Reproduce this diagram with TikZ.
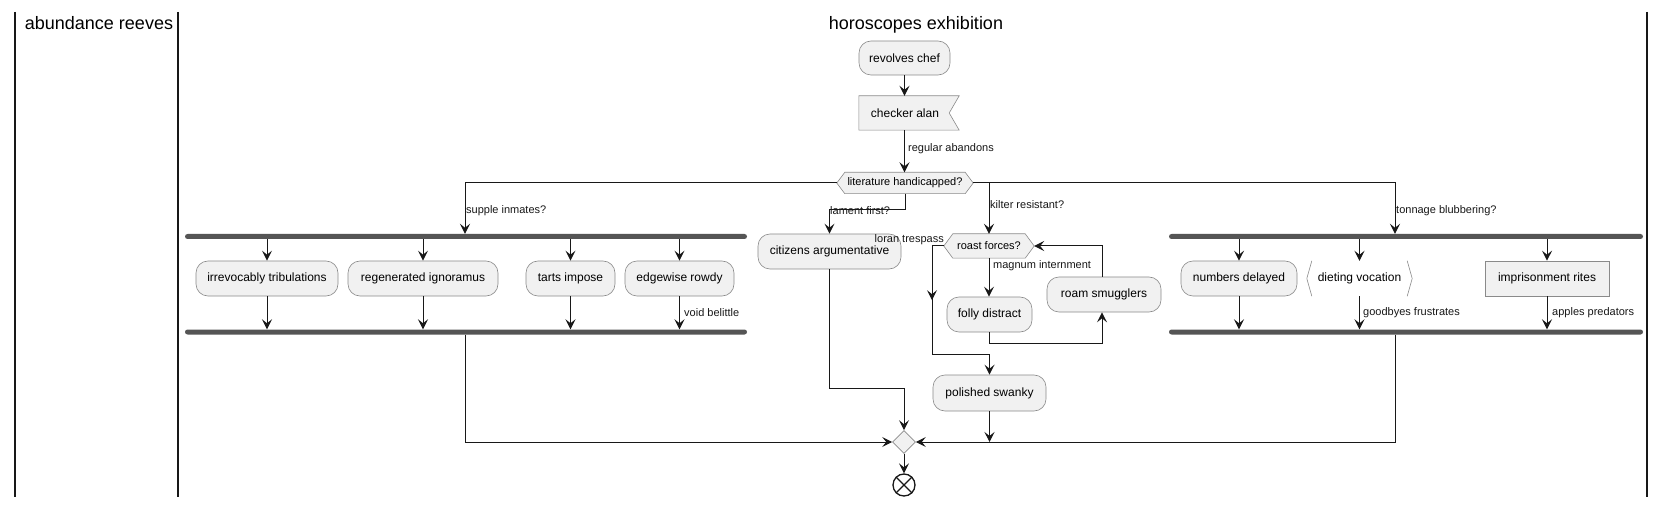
\documentclass[tikz,border=0pt]{standalone}
\usepackage{fontspec}
\setmainfont{Liberation Sans}
\usetikzlibrary{arrows.meta,shapes.geometric,backgrounds,decorations.markings,calc}
\definecolor{boxf}{HTML}{F1F1F1}
\definecolor{bordc}{HTML}{8A8A8A}
\definecolor{linec}{HTML}{181818}
\definecolor{barc}{HTML}{555555}
\newcommand\hexdraw[2]{\draw[shapeline] (#1.west) -- ([xshift=#2pt]#1.north west) -- ([xshift=-#2pt]#1.north east) -- (#1.east) -- ([xshift=-#2pt]#1.south east) -- ([xshift=#2pt]#1.south west) -- cycle;}
\begin{document}
\begin{tikzpicture}[x=1pt,y=-1pt,
 nfont/.style={font=\fontsize{12}{14}\selectfont},
 actbox/.style={nfont, draw=bordc, fill=boxf, rounded corners=12pt, line width=0.6pt, minimum height=35pt, inner sep=0pt},
 rectbox/.style={nfont, draw=bordc, fill=boxf, line width=0.6pt, minimum height=35pt, inner sep=0pt},
 plainbox/.style={nfont, inner sep=0pt, minimum height=35pt},
 hexnode/.style={inner sep=0pt, font=\fontsize{11}{13}\selectfont},
 shapeline/.style={draw=bordc, fill=boxf, line width=0.6pt},
 lbl/.style={inner sep=0pt, font=\fontsize{11}{13}\selectfont, text=linec},
 arr/.style={draw=linec, line width=1pt, -{Stealth[length=10pt,width=10pt,inset=4pt]}},
 forkbar/.style={fill=barc, rounded corners=2.5pt, minimum height=5pt, inner sep=0pt},
 lane/.style={draw=linec, line width=1.5pt},
 title/.style={font=\fontsize{18}{22}\selectfont, anchor=base, inner sep=0pt, text=black}
]
\begin{scope}[on background layer]
\fill[white] (0,0) rectangle (1666,505);
\end{scope}
\useasboundingbox (0,0) rectangle (1666,505);

% lanes
\draw[lane] (15,12) -- (15,497);
\draw[lane] (178,12) -- (178,497);
\draw[lane] (1647,12) -- (1647,497);
\node[title] (t1) at (99,30) {abundance reeves};
\node[title] (t2) at (916,30) {horoscopes exhibition};

% nodes
\node[actbox, minimum width=91pt, minimum height=34pt] (rc) at (904.5,58) {revolves chef};
\node[plainbox, minimum width=100pt, minimum height=34pt] (ca) at (909,113) {\hspace*{-8pt}checker alan};
\node[hexnode, minimum width=136pt, minimum height=21pt] (lh) at (905,183) {literature handicapped?};

\node[forkbar, minimum width=562pt] (f1) at (466,236.5) {};
\node[actbox, minimum width=142pt] (irr) at (267,278.5) {irrevocably tribulations};
\node[actbox, minimum width=150pt] (reg) at (423,278.5) {regenerated ignoramus};
\node[actbox, minimum width=89pt] (tar) at (570.5,278.5) {tarts impose};
\node[actbox, minimum width=109pt] (edg) at (679.5,278.5) {edgewise rowdy};
\node[forkbar, minimum width=562pt] (j1) at (466,332) {};

\node[actbox, minimum width=143pt] (cit) at (829.5,251.5) {citizens argumentative};

\node[hexnode, minimum width=90pt, minimum height=24pt] (rf) at (989,246) {roast forces?};
\node[actbox, minimum width=85pt] (fd) at (989.5,314.5) {folly distract};
\node[actbox, minimum width=114pt] (rs) at (1104,294.5) {roam smugglers};
\node[actbox, minimum width=113pt, minimum height=36pt] (ps) at (989.5,393) {polished swanky};

\node[forkbar, minimum width=474pt] (f2) at (1406,236.5) {};
\node[actbox, minimum width=116pt] (nd) at (1239,278.5) {numbers delayed};
\node[plainbox, minimum width=105pt] (dv) at (1359.5,278.5) {dieting vocation};
\node[rectbox, minimum width=124pt] (ir) at (1547,278.5) {imprisonment rites};
\node[forkbar, minimum width=474pt] (j2) at (1406,332) {};

\node[diamond, draw=bordc, fill=boxf, line width=0.6pt, minimum width=23pt, minimum height=23pt, inner sep=0pt] (mg) at (904,442) {};
\node[circle, draw=linec, line width=1.3pt, minimum size=22pt, inner sep=0pt, fill=white] (end) at (904,485) {};
\draw[linec, line width=1.3pt] (end.north west) -- (end.south east) (end.north east) -- (end.south west);

\coordinate (c1) at (904,388);
\coordinate (c2) at (932,354);

% special outlines
\begin{scope}[on background layer]
\hexdraw{lh}{8}
\hexdraw{rf}{9}
\draw[shapeline] (ca.north west) -- (ca.north east) -- ([xshift=-10pt]ca.east) -- (ca.south east) -- (ca.south west) -- cycle;
\end{scope}
\draw[draw=bordc, line width=0.6pt] ([xshift=5pt]dv.north west) -- (dv.west) -- ([xshift=5pt]dv.south west);
\draw[draw=bordc, line width=0.6pt] ([xshift=-5pt]dv.north east) -- (dv.east) -- ([xshift=-5pt]dv.south east);

% connectors
\draw[arr] (rc.south) -- (rc.south |- ca.north);
\draw[arr] (rc.south |- ca.south) -- (rc.south |- lh.north);
\draw[arr] (lh.west) -| ([xshift=-1pt]f1.north);
\draw[arr] (lh.south) -- ++(0,16) -| (cit.north);
\draw[arr] (lh.east) -| (rf.north);
\draw[arr] (lh.east) -| ([xshift=-11pt]f2.north);

\foreach \n in {irr,reg,tar,edg}{
  \draw[arr] (f1.south -| \n.north) -- (\n.north);
  \draw[arr] (\n.south) -- (\n.south |- j1.north);
}
\foreach \n in {nd,dv,ir}{
  \draw[arr] (f2.south -| \n.north) -- (\n.north);
  \draw[arr] (\n.south) -- (\n.south |- j2.north);
}

\draw[arr] (rf.south) -- (rf.south |- fd.north);
\draw[arr] (fd.south) -- ++(0,11) -| ([xshift=-2pt]rs.south);
\draw[arr] ([xshift=-2pt]rs.north) |- (rf.east);
\draw[arr, postaction={decorate}, decoration={markings, mark=at position 66pt with {\arrow{Stealth[length=10pt,width=10pt,inset=4pt]}}}] (rf.west) -| (c2) -| (ps.north);

\draw[arr] ([xshift=-1pt]j1.south) |- (mg.west);
\draw[arr] (cit.south) |- (c1) -- (mg.north);
\draw[arr] (ps.south) -- (ps.south |- mg.east);
\draw[arr] ([xshift=-11pt]j2.south) |- (mg.east);
\draw[arr] (mg.south) -- (end.north);

% labels
\node[lbl, anchor=west] (l1) at (908,149) {regular abandons};
\node[lbl, anchor=west] (l2) at (466,211) {supple inmates?};
\node[lbl, anchor=west] (l3) at (830,211) {lament first?};
\node[lbl, anchor=west] (l4) at (990,205) {kilter resistant?};
\node[lbl, anchor=west] (l5) at (1396,211) {tonnage blubbering?};
\node[lbl, anchor=west] (l6) at (684,313) {void belittle};
\node[lbl, anchor=east] (l7) at (944,240) {loran trespass};
\node[lbl, anchor=west] (l8) at (993,266) {magnum internment};
\node[lbl, anchor=west] (l9) at (1363,313) {goodbyes frustrates};
\node[lbl, anchor=west] (l10) at (1552,313) {apples predators};
\end{tikzpicture}
\end{document}
